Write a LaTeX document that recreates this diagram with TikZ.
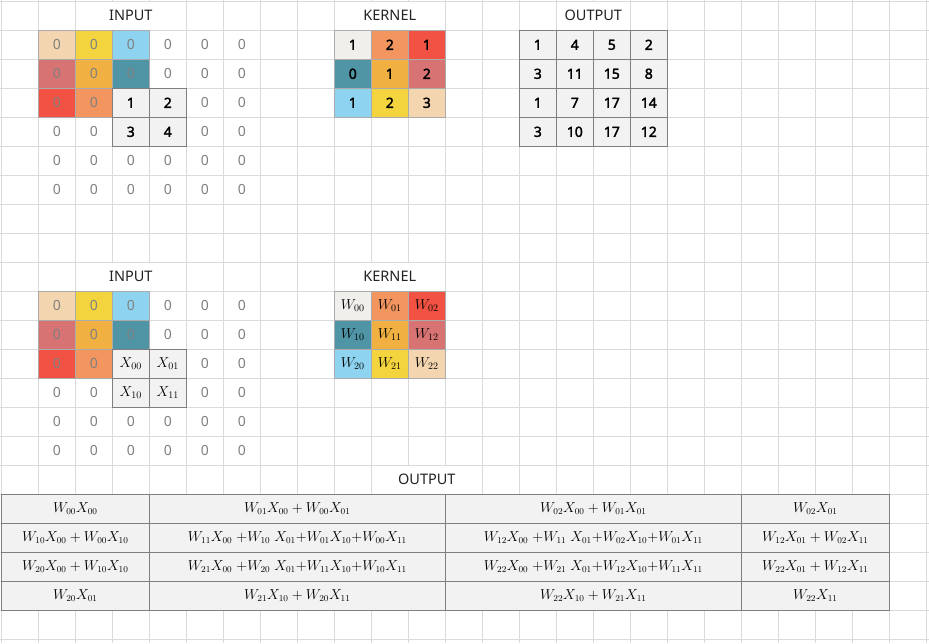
\documentclass[tikz,border=0pt]{standalone}
\usepackage[no-math]{fontspec}
\setmainfont{Noto Sans}
\newfontfamily\bnumfont{Noto Sans}[FakeBold=2.2]
\definecolor{peach}{HTML}{F3D5AF}
\definecolor{yel}{HTML}{F3D43F}
\definecolor{lblue}{HTML}{8ED4F0}
\definecolor{rose}{HTML}{D87373}
\definecolor{orng}{HTML}{F0B142}
\definecolor{teal}{HTML}{5095A6}
\definecolor{redc}{HTML}{F25243}
\definecolor{salmon}{HTML}{F2955F}
\definecolor{kgray}{HTML}{F0EFEB}
\definecolor{cellgray}{HTML}{F2F2F2}
\definecolor{cborder}{HTML}{ABABAB}
\definecolor{dborder}{HTML}{7F7F7F}
\definecolor{gridc}{HTML}{DADADA}
\definecolor{zerogray}{HTML}{808080}
\definecolor{titlec}{HTML}{222222}
\begin{document}
\begin{tikzpicture}[x=37pt,y=-29pt,
  gridline/.style={draw=gridc,line width=1pt},
  cell/.style={minimum width=37pt,minimum height=29pt,inner sep=0pt,outer sep=0pt,anchor=center},
  colcell/.style={cell,draw=cborder,line width=1pt,fill=#1},
  graycell/.style={cell,draw=dborder,line width=1pt,fill=cellgray},
  zero/.style={text=zerogray,font=\fontsize{14}{16}\selectfont},
  bnum/.style={text=black,font=\bnumfont\fontsize{14}{16}\selectfont},
  mcell/.style={text=black,font=\fontsize{14}{16}\selectfont},
  titlebox/.style={fill=white,inner sep=0pt,minimum height=28pt,text=titlec,font=\fontsize{14.5}{17}\selectfont},
  tcell/.style={draw=dborder,line width=1pt,fill=cellgray,inner sep=0pt,minimum height=29pt,anchor=center,font=\fontsize{13.5}{16}\selectfont}]
\useasboundingbox (-1.3pt,1.3pt) rectangle (927.7pt,-641.7pt);
\fill[white] (-1.3pt,1.3pt) rectangle (927.7pt,-641.7pt);
% spreadsheet grid
\foreach \c in {0,...,25} \draw[gridline] (\c,-0.05) -- (\c,22.13);
\foreach \r in {0,...,22} \draw[gridline] (-0.04,\r) -- (25.07,\r);
% titles (merged cells)
\node[titlebox,minimum width=110pt] (t-in-a) at (3.5,0.5) {INPUT};
\node[titlebox,minimum width=110pt] (t-k-a) at (10.5,0.5) {KERNEL};
\node[titlebox,minimum width=73pt] (t-out-a) at (16,0.5) {OUTPUT};
\node[titlebox,minimum width=110pt] (t-in-b) at (3.5,9.5) {INPUT};
\node[titlebox,minimum width=110pt] (t-k-b) at (10.5,9.5) {KERNEL};
\node[titlebox,minimum width=110pt] (t-out-b) at (11.5,16.5) {OUTPUT};
% input grids (plain zeros and coloured zeros)
\foreach \o/\p in {0/a,9/b}{
  \foreach \c/\r in {4/1,5/1,6/1,4/2,5/2,6/2,5/3,6/3,1/4,2/4,5/4,6/4,1/5,2/5,3/5,4/5,5/5,6/5,1/6,2/6,3/6,4/6,5/6,6/6}
    \node[cell,zero] (\p-z-\c-\r) at (\c+0.5,\r+\o+0.5) {0};
  \foreach \c/\r/\k in {1/1/peach,2/1/yel,3/1/lblue,1/2/rose,2/2/orng,3/2/teal,1/3/redc,2/3/salmon}
    \node[colcell=\k,zero] (\p-z-\c-\r) at (\c+0.5,\r+\o+0.5) {0};
}
% top input window
\foreach \c/\r/\v in {3/3/1,4/3/2,3/4/3,4/4/4}
  \node[graycell,bnum] (a-x-\c-\r) at (\c+0.5,\r+0.5) {\v};
% bottom input window
\foreach \c/\r/\v in {3/3/00,4/3/01,3/4/10,4/4/11}
  \node[graycell,mcell] (b-x-\c-\r) at (\c+0.5,\r+9.5) {$X_{\v}$};
% top kernel
\foreach \c/\r/\k/\v in {9/1/kgray/1,10/1/salmon/2,11/1/redc/1,9/2/teal/0,10/2/orng/1,11/2/rose/2,9/3/lblue/1,10/3/yel/2,11/3/peach/3}
  \node[colcell=\k,bnum] (a-k-\c-\r) at (\c+0.5,\r+0.5) {\v};
% bottom kernel
\foreach \c/\r/\k/\v in {9/1/kgray/00,10/1/salmon/01,11/1/redc/02,9/2/teal/10,10/2/orng/11,11/2/rose/12,9/3/lblue/20,10/3/yel/21,11/3/peach/22}
  \node[colcell=\k,mcell] (b-k-\c-\r) at (\c+0.5,\r+9.5) {$W_{\v}$};
% top output
\foreach \c/\r/\v in {14/1/1,15/1/4,16/1/5,17/1/2,14/2/3,15/2/11,16/2/15,17/2/8,14/3/1,15/3/7,16/3/17,17/3/14,14/4/3,15/4/10,16/4/17,17/4/12}
  \node[graycell,bnum] (a-o-\c-\r) at (\c+0.5,\r+0.5) {\v};
% bottom output table
\node[tcell,minimum width=148pt] (o11) at (2,17.5) {$W_{00}X_{00}$};
\node[tcell,minimum width=296pt] (o12) at (8,17.5) {$W_{01}X_{00}+W_{00}X_{01}$};
\node[tcell,minimum width=296pt] (o13) at (16,17.5) {$W_{02}X_{00}+W_{01}X_{01}$};
\node[tcell,minimum width=148pt] (o14) at (22,17.5) {$W_{02}X_{01}$};
\node[tcell,minimum width=148pt] (o21) at (2,18.5) {$W_{10}X_{00}+W_{00}X_{10}$};
\node[tcell,minimum width=296pt] (o22) at (8,18.5) {$W_{11}X_{00}\;{+}W_{10}\;X_{01}{+}W_{01}X_{10}{+}W_{00}X_{11}$};
\node[tcell,minimum width=296pt] (o23) at (16,18.5) {$W_{12}X_{00}\;{+}W_{11}\;X_{01}{+}W_{02}X_{10}{+}W_{01}X_{11}$};
\node[tcell,minimum width=148pt] (o24) at (22,18.5) {$W_{12}X_{01}+W_{02}X_{11}$};
\node[tcell,minimum width=148pt] (o31) at (2,19.5) {$W_{20}X_{00}+W_{10}X_{10}$};
\node[tcell,minimum width=296pt] (o32) at (8,19.5) {$W_{21}X_{00}\;{+}W_{20}\;X_{01}{+}W_{11}X_{10}{+}W_{10}X_{11}$};
\node[tcell,minimum width=296pt] (o33) at (16,19.5) {$W_{22}X_{00}\;{+}W_{21}\;X_{01}{+}W_{12}X_{10}{+}W_{11}X_{11}$};
\node[tcell,minimum width=148pt] (o34) at (22,19.5) {$W_{22}X_{01}+W_{12}X_{11}$};
\node[tcell,minimum width=148pt] (o41) at (2,20.5) {$W_{20}X_{01}$};
\node[tcell,minimum width=296pt] (o42) at (8,20.5) {$W_{21}X_{10}+W_{20}X_{11}$};
\node[tcell,minimum width=296pt] (o43) at (16,20.5) {$W_{22}X_{10}+W_{21}X_{11}$};
\node[tcell,minimum width=148pt] (o44) at (22,20.5) {$W_{22}X_{11}$};
\end{tikzpicture}
\end{document}
